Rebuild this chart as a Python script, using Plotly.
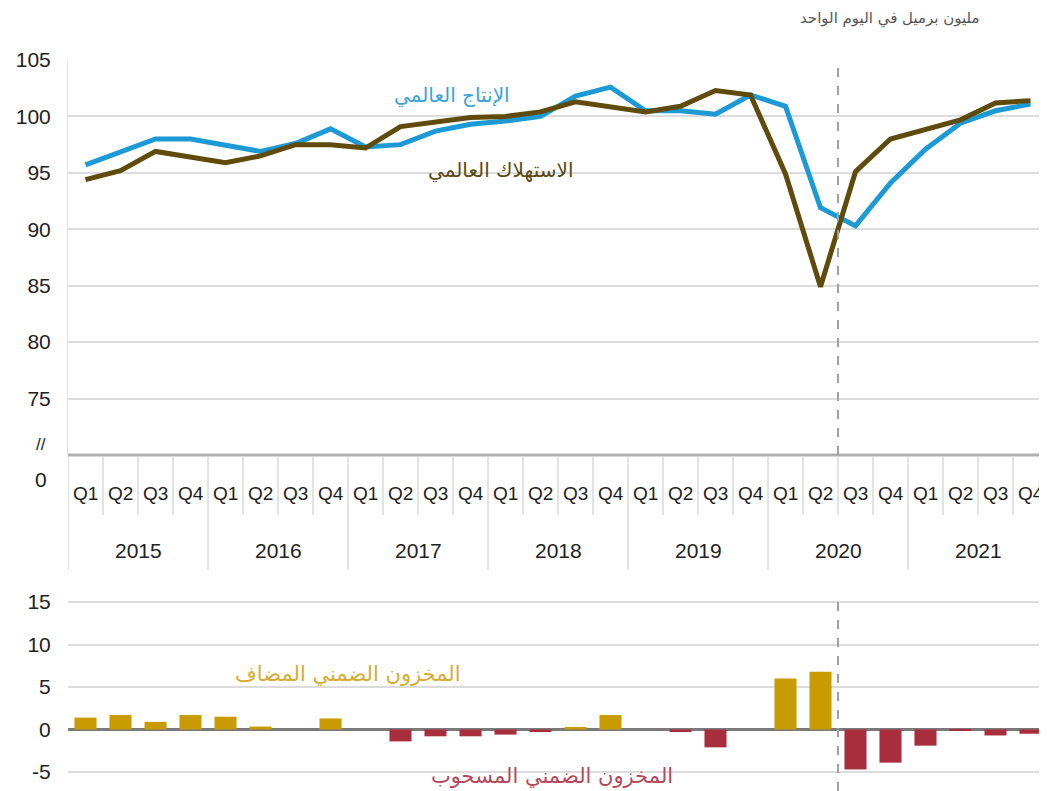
import plotly.graph_objects as go

years = ["2015", "2016", "2017", "2018", "2019", "2020", "2021"]
quarters = ["Q1", "Q2", "Q3", "Q4"]

production = [95.7, 96.9, 98.0, 98.0, 97.5, 96.9, 97.6, 98.9, 97.3, 97.5, 98.7, 99.3, 99.6, 100.0,
              101.8, 102.6, 100.5, 100.5, 100.2, 101.9, 100.9, 91.9, 90.3, 94.1, 97.1, 99.4, 100.5, 101.1]
consumption = [94.4, 95.2, 96.9, 96.4, 95.9, 96.5, 97.5, 97.5, 97.2, 99.1, 99.5, 99.9, 100.0, 100.4,
               101.3, 100.8, 100.4, 100.9, 102.3, 101.9, 94.9, 84.9, 95.1, 98.0, 98.8, 99.7, 101.2, 101.4]
stock_change = [1.4, 1.7, 0.9, 1.7, 1.5, 0.35, 0.0, 1.3, 0.0, -1.4, -0.8, -0.8, -0.6, -0.3,
                0.3, 1.7, 0.0, -0.3, -2.1, 0.0, 6.0, 6.8, -4.7, -3.9, -1.9, -0.1, -0.7, -0.5]

top_ticks = [75, 80, 85, 90, 95, 100, 105]
bottom_ticks = [-5, 0, 5, 10, 15]
bottom_tick_text = ["-5", "0", "5", "10", "15"]

labels_prod = "الإنتاج العالمي"
labels_cons = "الاستهلاك العالمي"
label_add = "المخزون الضمني المضاف"
label_draw = "المخزون الضمني المسحوب"
unit_label = "مليون برميل في اليوم الواحد"

n = len(years) * len(quarters)
xs = list(range(n))

# page has an 8px body margin; work in screen pixels and convert
O = 8
SW, SH = 1047, 791
W, H = SW - O, SH - O
L, T = 68 - O, 60 - O
PW, PH = W - L, H - T


def px_x(p):
    return (p - O - L) / PW


def px_y(p):
    return (H - (p - O)) / PH


FONT = "Liberation Sans, Arial"
BLUE = "#1b9ad6"
BROWN = "#5f4b0b"
GOLD = "#c89b00"
RED = "#a82e3e"

fig = go.Figure()
fig.add_trace(go.Scatter(x=xs, y=production, mode="lines", line=dict(color=BLUE, width=5),
                         xaxis="x", yaxis="y", showlegend=False))
fig.add_trace(go.Scatter(x=xs, y=consumption, mode="lines", line=dict(color=BROWN, width=5),
                         xaxis="x", yaxis="y", showlegend=False))
bar_colors = [GOLD if v >= 0 else RED for v in stock_change]
fig.add_trace(go.Bar(x=xs, y=stock_change, marker=dict(color=bar_colors, line=dict(width=0)),
                     width=0.63, xaxis="x2", yaxis="y2", showlegend=False))

xrange = [-0.5, -0.5 + PW / 35.0]
top_dom = [px_y(455), 1.0]
bot_dom = [0.0, px_y(600)]

fig.update_layout(
    width=W, height=H,
    margin=dict(l=L, r=0, t=T, b=0, autoexpand=False),
    paper_bgcolor="white", plot_bgcolor="white",
    font=dict(family=FONT, color="#333333"),
    xaxis=dict(domain=[0, 1], range=xrange, showticklabels=False, showgrid=False,
               zeroline=False, showline=False, anchor="y", automargin=False),
    yaxis=dict(domain=top_dom, range=[70, 105], tickvals=top_ticks, showgrid=True,
               gridcolor="#dcdcdc", gridwidth=2, zeroline=False, showline=True, linecolor="#e3e3e3",
               ticks="outside", ticklen=12, tickcolor="white", automargin=False,
               tickfont=dict(size=21, color="#222222", family=FONT)),
    xaxis2=dict(domain=[0, 1], range=xrange, showticklabels=False, showgrid=False,
                zeroline=False, showline=False, anchor="y2", automargin=False),
    yaxis2=dict(domain=bot_dom, range=[-5 - (791 - 772) / 8.5, 15 + 2 / 8.5], tickvals=bottom_ticks,
                ticktext=bottom_tick_text,
                showgrid=True, gridcolor="#dcdcdc", gridwidth=2, zeroline=True,
                zerolinecolor="#7a7a7a", zerolinewidth=3, showline=False,
                ticks="outside", ticklen=12, tickcolor="white", automargin=False,
                tickfont=dict(size=21, color="#222222", family=FONT)),
    bargap=0.37,
)

shapes = []
shapes.append(dict(type="line", xref="paper", yref="paper", x0=0, x1=1, y0=px_y(455), y1=px_y(455),
                   line=dict(color="#b0b0b0", width=3)))
for k in range(n + 1):
    is_year = (k % 4 == 0)
    shapes.append(dict(type="line", xref="x", yref="paper", x0=k - 0.5, x1=k - 0.5,
                       y0=px_y(570 if is_year else 515), y1=px_y(456),
                       line=dict(color="#c8c8c8", width=1)))
shapes.append(dict(type="line", xref="x", yref="paper", x0=21.5, x1=21.5, y0=px_y(455), y1=1,
                   line=dict(color="#a0a0a0", width=2, dash="dash")))
shapes.append(dict(type="line", xref="x", yref="paper", x0=21.5, x1=21.5, y0=0.0, y1=px_y(600),
                   line=dict(color="#a0a0a0", width=2, dash="dash")))
fig.update_layout(shapes=shapes)


def label(x, y, text, size, color, family=FONT, xref="paper"):
    return dict(x=x, y=y, xref=xref, yref="paper", text=text, showarrow=False,
                xanchor="center", yanchor="middle",
                font=dict(size=size, color=color, family=family))


AR = "DejaVu Sans, Noto Sans"
ann = []
for yi, yr in enumerate(years):
    for qi, q in enumerate(quarters):
        k = yi * 4 + qi
        ann.append(label(k, px_y(493), q, 19, "#1e1e1e", xref="x"))
    ann.append(label(yi * 4 + 1.5, px_y(550), yr, 21, "#222222", xref="x"))

ann.append(label(px_x(41), px_y(480), "0", 21, "#222222"))
ann.append(label(px_x(41), px_y(444), "//", 17, "#222222"))
ann.append(label(px_x(452), px_y(95), labels_prod, 20, "#3aa3d9", AR))
ann.append(label(px_x(500), px_y(171), labels_cons, 20, "#5a4a12", AR))
ann.append(label(px_x(348), px_y(674), label_add, 21, "#d6ad30", AR))
ann.append(label(px_x(552), px_y(776), label_draw, 21, "#b5495a", AR))
ann.append(label(px_x(890), px_y(18), unit_label, 15, "#555555", AR))
fig.update_layout(annotations=ann)

fig.write_html("out.html")
